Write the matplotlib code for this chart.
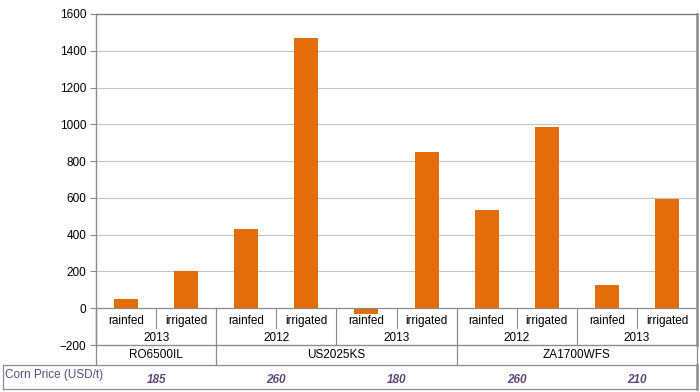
import matplotlib.pyplot as plt
import numpy as np

plt.rcParams['font.family'] = ['Liberation Sans', 'DejaVu Sans']

# data
water = ["rainfed", "irrigated"] * 5
years = ["2013", "2012", "2013", "2012", "2013"]
sites = ["RO6500IL", "US2025KS", "ZA1700WFS"]
site_span = [1, 2, 2]          # number of year groups per site
values = [50, 205, 432, 1470, -30, 850, 535, 985, 125, 595]
prices = ["185", "260", "180", "260", "210"]

orange = "#E46C0A"
purple = "#5F497A"
grid_c = "#C4C4C4"
line_c = "#8C8C8C"

fig = plt.figure(figsize=(7, 3.92), dpi=100)
ax = fig.add_axes([96 / 700, 1 - 345 / 392, 601 / 700, 331 / 392])

x = np.arange(len(values))
ax.bar(x, values, width=0.4, color=orange, zorder=3)

ax.set_xlim(-0.5, len(values) - 0.5)
ax.set_ylim(-200, 1600)
ax.set_yticks(np.arange(-200, 1601, 200))
ax.tick_params(axis='y', labelsize=8.5, length=4, color=line_c, pad=3)
ax.set_xticks([])
for yv in range(200, 1600, 200):
    ax.axhline(yv, color=grid_c, lw=0.8, zorder=1)
ax.axhline(0, color=line_c, lw=0.9, zorder=4)

for s in ax.spines.values():
    s.set_color(line_c)
    s.set_linewidth(1.0)
ax.spines['right'].set_linewidth(1.8)
ax.spines['top'].set_color("#7F7F7F")

fs = 8.5
# level 1 labels: rainfed / irrigated
for i, w in enumerate(water):
    ax.text(i, -70, w, ha='center', va='center', fontsize=fs)
for b in [0.5, 2.5, 4.5, 6.5, 8.5]:
    ax.plot([b, b], [0, -105], color=line_c, lw=0.8, clip_on=False)

# level 2 labels: years
for g, yr in enumerate(years):
    ax.text(2 * g + 0.5, -163, yr, ha='center', va='center', fontsize=fs)
for b in [3.5, 7.5]:
    ax.plot([b, b], [0, -200], color=line_c, lw=0.8, clip_on=False)

# level 3 labels: sites
yc = -255
start = 0
bounds = [-0.5]
for s, n in zip(sites, site_span):
    end = start + 2 * n
    ax.text((start + end - 1) / 2, yc, s, ha='center', va='center', fontsize=fs)
    bounds.append(end - 0.5)
    start = end
ylow = -308
for b in bounds:
    ax.plot([b, b], [0, ylow], color=line_c, lw=0.9, clip_on=False)

# price table row
xl = -2.05
ybot = -440
ax.plot([xl, 9.5], [ylow, ylow], color=line_c, lw=0.9, clip_on=False)
ax.plot([xl, 9.5], [ybot, ybot], color=line_c, lw=0.9, clip_on=False)
ax.plot([xl, xl], [ylow, ybot], color=line_c, lw=0.9, clip_on=False)
ax.plot([9.5, 9.5], [ylow, ybot], color=line_c, lw=1.8, clip_on=False)
ax.text(xl + 0.03, -365, "Corn Price (USD/t)", ha='left', va='center',
        fontsize=8.5, color=purple)
for g, p in enumerate(prices):
    ax.text(2 * g + 0.5, -388, p, ha='center', va='center', fontsize=8.5,
            color=purple, style='italic', fontweight='bold')

fig.savefig("out.png", dpi=100)
